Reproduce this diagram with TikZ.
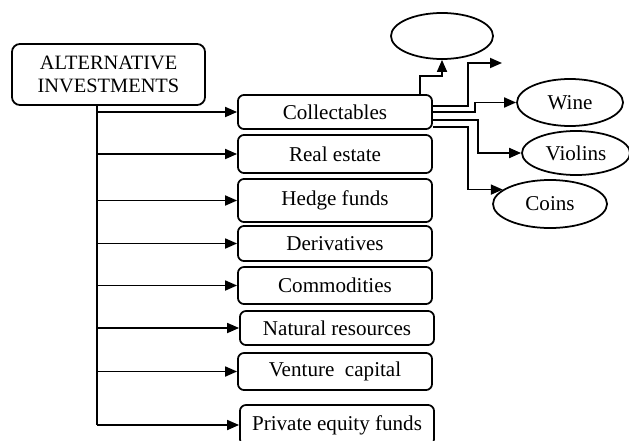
\documentclass[tikz,border=0pt]{standalone}
\usepackage{fontspec}
\setmainfont{Liberation Serif}
\usetikzlibrary{arrows.meta,calc,positioning,shapes.geometric}

\begin{document}
\begin{tikzpicture}[x=0.025cm,y=-0.025cm,line width=1.25pt,
	box/.style={draw,rounded corners=0.15cm,minimum width=4.85cm,inner sep=0pt,font=\fontsize{15}{16}\selectfont},
	leaf/.style={draw,ellipse,inner sep=0pt,font=\fontsize{15}{16}\selectfont},
	arr/.style={-{Triangle[length=0.3cm,width=0.25cm]}}]
	\useasboundingbox (0,0) rectangle (629,440);
	%ROOT
	\node[box,rounded corners=0.2cm,minimum width=4.825cm,minimum height=1.525cm,align=center,font=\fontsize{14.5}{16}\selectfont] (root) at (108.5,74.5) {ALTERNATIVE\\INVESTMENTS};
	%CLASSES
	\node[box,minimum height=0.85cm] (coll) at (335,112) {Collectables};
	\node[box,minimum height=0.95cm] (real) at (335,154) {Real estate};
	\node[box,minimum height=1.075cm] (hedge) at (335,200.5) {Hedge funds};
	\node[box,minimum height=0.875cm] (deriv) at (335,243.5) {Derivatives};
	\node[box,minimum height=0.925cm] (comm) at (335,285.5) {Commodities};
	\node[box,minimum height=0.85cm] (nat) at (337,328) {Natural resources};
	\node[box,minimum height=0.925cm] (vent) at (335,371.5) {Venture~~capital};
	\node[box,minimum height=1cm] (priv) at (337,425) {Private equity funds};
	%COLLECTABLES
	\node[leaf,minimum width=2.55cm,minimum height=1.15cm] (other) at (442,36) {};
	\node[leaf,minimum width=2.65cm,minimum height=1.175cm] (wine) at (570,102.5) {Wine};
	\node[leaf,minimum width=2.7cm,minimum height=1.1cm] (violins) at (576,153) {Violins};
	\node[leaf,minimum width=2.85cm,minimum height=1.2cm] (coins) at (550,204) {Coins};
	\coordinate (tip) at (502,63);
	%TRUNK
	\coordinate (trunk) at ([xshift=-0.2875cm]root.south);
	\draw (trunk) -- (trunk |- priv.west);
	\foreach \b in {coll,real,hedge,deriv,comm,nat,vent,priv}
		\draw[arr] (trunk |- \b.west) -- (\b.west);
	%BRANCHES
	\draw[arr] ([xshift=2.125cm]coll.north) -- ++(0,0.45cm) -| (other.south);
	\draw[arr] ([yshift=0.15cm]coll.east) -- ++(0.875cm,0) |- (tip);
	\draw[arr] (coll.east) -- ++(1.05cm,0) |- (wine.west);
	\draw[arr] ([yshift=-0.2cm]coll.east) -- ++(1.125cm,0) |- (violins.west);
	\draw[arr] ([yshift=-0.375cm]coll.east) -- ++(0.875cm,0) |- (coins.163);
\end{tikzpicture}
\end{document}
